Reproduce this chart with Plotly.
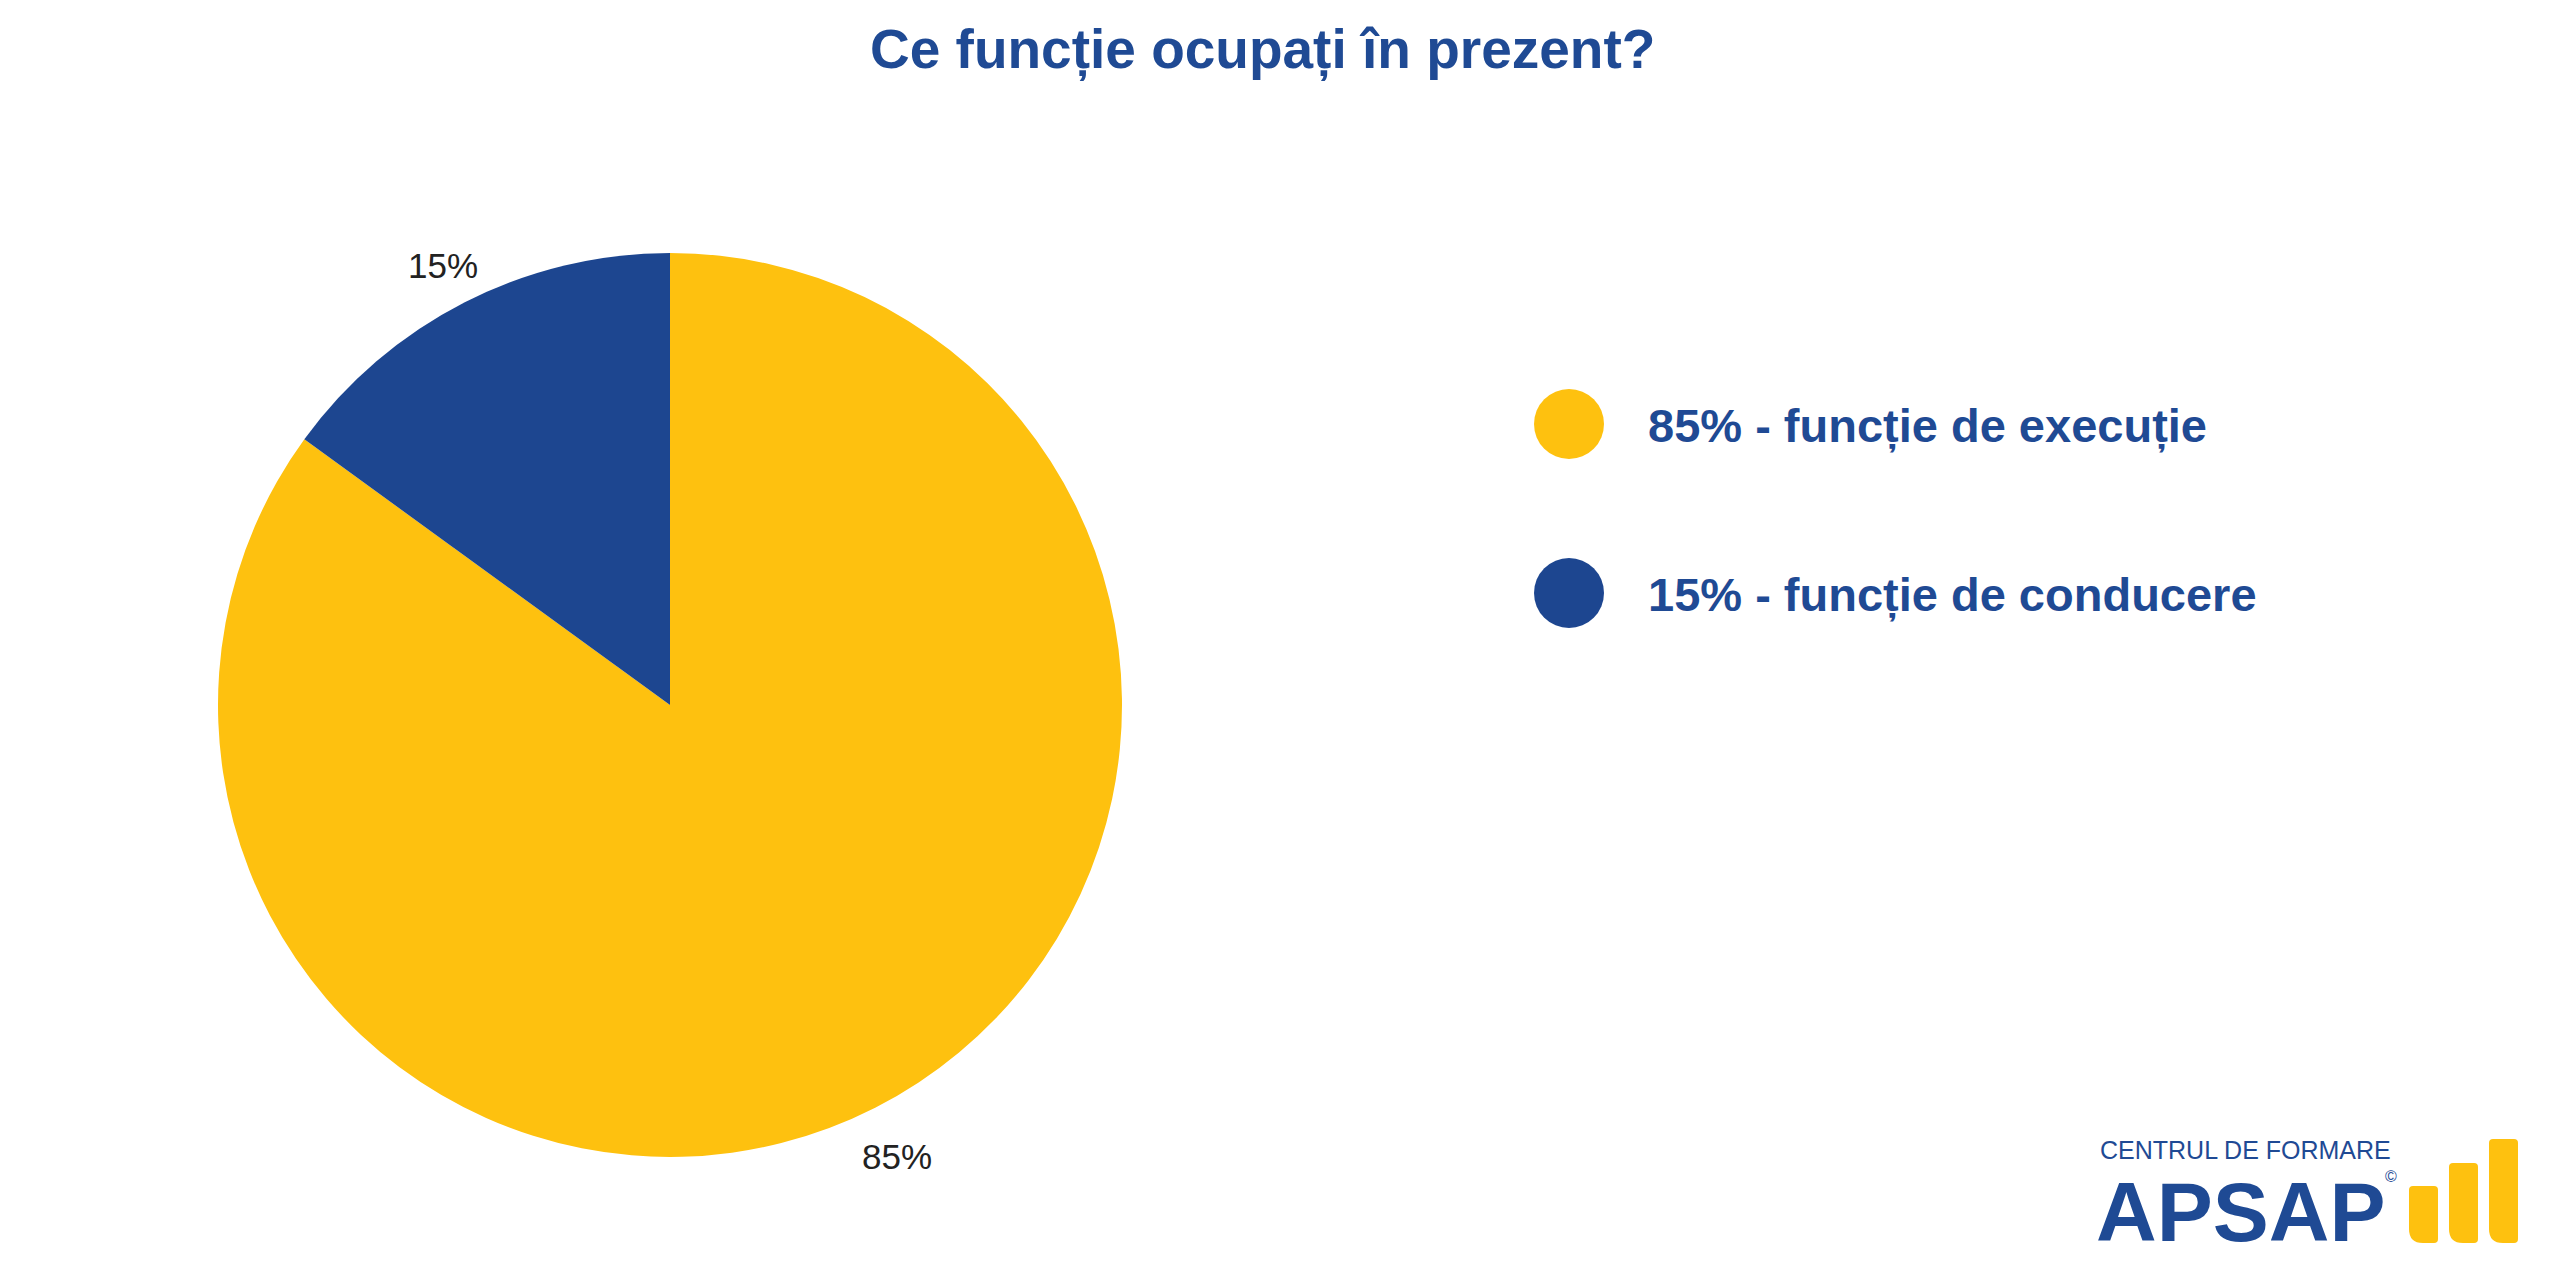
import math
import plotly.graph_objects as go

# ---- data ----
categories = ["funcție de execuție", "funcție de conducere"]
values = [85, 15]
colors = ["#FEC10F", "#1D4690"]
title_text = "Ce funcție ocupați în prezent?"

W, H = 2560, 1281
BLUE = "#1F4A94"


def px(x, y):
    return x / W, 1 - y / H


fig = go.Figure()

# pie: center (670,705) px, radius 452 px
cx, cy, r = 670, 705, 452
fig.add_trace(go.Pie(
    labels=categories,
    values=values,
    marker=dict(colors=colors, line=dict(width=0)),
    sort=False,
    direction="clockwise",
    rotation=0,
    textposition="none",
    hoverinfo="skip",
    showlegend=False,
    domain=dict(x=[(cx - r) / W, (cx + r) / W],
                y=[(H - cy - r) / H, (H - cy + r) / H]),
))

shapes = []
annotations = []

# outside percent labels, placed on each slice's mid-angle
total = sum(values)
cum = 0
label_dist = 500
for val in values:
    frac = (cum + val / 2) / total
    cum += val
    th = 2 * math.pi * frac
    lx_px = cx + label_dist * math.sin(th)
    ly_px = cy - label_dist * math.cos(th)
    ax, ay = px(lx_px, ly_px)
    annotations.append(dict(
        text=f"{val}%", x=ax, y=ay, xref="paper", yref="paper",
        xanchor="center", yanchor="middle", showarrow=False, yshift=-6,
        font=dict(family="Liberation Sans, Arial, sans-serif", size=35, color="#222222"),
    ))

# title
tx, ty = px(1262, 49)
annotations.append(dict(
    text="<b>" + title_text + "</b>", x=tx, y=ty, xref="paper", yref="paper",
    xanchor="center", yanchor="middle", showarrow=False,
    font=dict(family="Liberation Sans, Arial, sans-serif", size=55, color=BLUE),
))

# custom legend
leg_y = [424, 593]
for i, (cat, val, col) in enumerate(zip(categories, values, colors)):
    x0, y1 = px(1534, leg_y[i] - 35)
    x1, y0 = px(1604, leg_y[i] + 35)
    shapes.append(dict(type="circle", xref="paper", yref="paper",
                       x0=x0, x1=x1, y0=y0, y1=y1,
                       fillcolor=col, line=dict(width=0)))
    lx, ly = px(1646, leg_y[i] + 2)
    annotations.append(dict(
        text=f"<b>{val}% - {cat}</b>", x=lx, y=ly, xref="paper", yref="paper",
        xanchor="left", yanchor="middle", showarrow=False,
        font=dict(family="Liberation Sans, Arial, sans-serif", size=47, color=BLUE),
    ))

# logo text
lx, ly = px(2098, 1150)
annotations.append(dict(
    text="CENTRUL DE FORMARE", x=lx, y=ly, xref="paper", yref="paper",
    xanchor="left", yanchor="middle", showarrow=False,
    font=dict(family="Liberation Sans, Arial, sans-serif", size=25, color=BLUE),
))
lx, ly = px(2094, 1212)
annotations.append(dict(
    text="<b>APSAP</b>", x=lx, y=ly, xref="paper", yref="paper",
    xanchor="left", yanchor="middle", showarrow=False,
    font=dict(family="Liberation Sans, Arial, sans-serif", size=84, color=BLUE),
))
lx, ly = px(2391, 1176)
annotations.append(dict(
    text="©", x=lx, y=ly, xref="paper", yref="paper",
    xanchor="center", yanchor="middle", showarrow=False,
    font=dict(family="Liberation Sans, Arial, sans-serif", size=16, color=BLUE),
))


# logo bars (rounded bottom-left corner)
def bar_path(xl, xr, yt, yb, rb=14, rt=4):
    def P(x, y):
        a, b = px(x, y)
        return f"{a:.6f},{b:.6f}"
    return (f"M {P(xl, yt + rt)} Q {P(xl, yt)} {P(xl + rt, yt)} "
            f"L {P(xr - rt, yt)} Q {P(xr, yt)} {P(xr, yt + rt)} "
            f"L {P(xr, yb - rt)} Q {P(xr, yb)} {P(xr - rt, yb)} "
            f"L {P(xl + rb, yb)} Q {P(xl, yb)} {P(xl, yb - rb)} Z")


for (xl, xr, yt, yb) in [(2409, 2438, 1186, 1243), (2449, 2478, 1163, 1243), (2489, 2518, 1139, 1243)]:
    shapes.append(dict(type="path", xref="paper", yref="paper",
                       path=bar_path(xl, xr, yt, yb), fillcolor="#FEC10F",
                       line=dict(width=0)))

fig.update_layout(
    width=W, height=H,
    margin=dict(l=0, r=0, t=0, b=0),
    paper_bgcolor="white", plot_bgcolor="white",
    shapes=shapes, annotations=annotations,
    showlegend=False,
)

fig.write_html("out.html", config={"displayModeBar": False})
